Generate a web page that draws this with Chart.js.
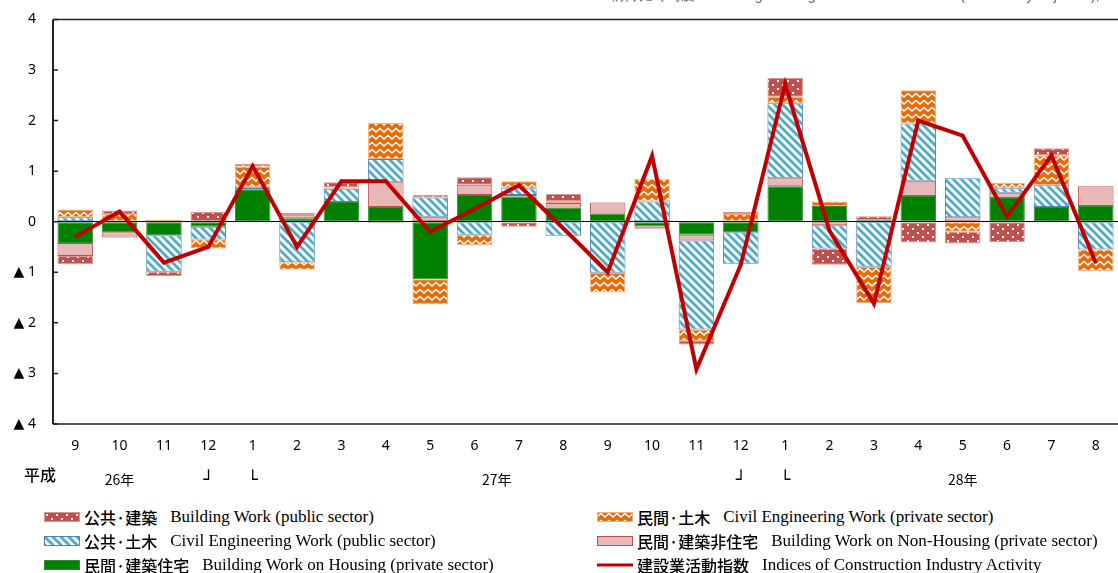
<!DOCTYPE html>
<html><head><meta charset="utf-8">
<script src="https://cdn.jsdelivr.net/npm/chart.js@4.4.0/dist/chart.umd.min.js"></script>
<style>
html,body{margin:0;padding:0;background:#fff;width:1118px;height:573px;overflow:hidden;position:relative}
#wrap{position:absolute;left:0;top:-6px;width:1118px;height:501px}
#hdr{position:absolute;right:6px;top:-12px;font:14px 'Liberation Sans';line-height:14px;color:#666;white-space:nowrap;z-index:2}
.leg{position:absolute;display:flex;align-items:center;height:22px;white-space:nowrap}
.leg canvas{margin-right:4px}
.jp{font:500 16px 'Noto Sans CJK JP';color:#000;margin-right:13px}
.en{font:17px 'Liberation Serif';color:#000}
</style></head>
<body>
<div id="wrap"><canvas id="c" width="1118" height="501"></canvas></div>
<div id="hdr">前月比寄与度 Percentage Change from Previous Month (Seasonally Adjusted),%</div>
<div id="legend"></div>
<script>
// ---- data ----
const months = ['9','10','11','12','1','2','3','4','5','6','7','8','9','10','11','12','1','2','3','4','5','6','7','8'];
const yearLabels = [{at:1,text:'26年'},{at:3,text:'┘'},{at:4,text:'└'},{at:9.5,text:'27年'},{at:15,text:'┘'},{at:16,text:'└'},{at:20,text:'28年'}];
const eraLabel = '平成';
const housingPrivate = [-0.42,-0.21,-0.27,-0.10, 0.64,0.07,0.39,0.29,-1.14,0.53,0.50,0.28,0.16,-0.09,-0.26,-0.21, 0.70,0.31,0.03,0.51,0,0.47,0.29,0.31];
const nonHousingPrivate = [-0.26,-0.10,0,0, 0,0.06,0,0.49,0.10,0.20,0.03,0.09,0.22,0,-0.11,0, 0.16,-0.07,0,0.30,0.09,0.10,0,0.39];
const civilPublic = [0.09,0,-0.72,-0.25, 0.04,-0.80,0.26,0.46,0.38,-0.26,0.13,-0.28,-1.01,0.40,-1.76,-0.62, 1.48,-0.46,-0.89,1.13,0.77,0.09,0.43,-0.55];
const civilPrivate = [0.15,0.15,0.04,-0.18, 0.41,-0.15,0.03,0.71,-0.49,-0.20,0.14,0.04,-0.39,0.45,-0.23,0.15, 0.13,0.09,-0.72,0.66,-0.20,0.11,0.59,-0.43];
const buildingPublic = [-0.16,0.07,-0.09,0.19, 0.05,0.04,0.10,-0.03,0.05,0.15,-0.10,0.14,0,-0.05,-0.07,0.04, 0.37,-0.32,0.08,-0.41,-0.23,-0.40,0.14,0];
const activityIndex = [-0.30,0.20,-0.81,-0.50, 1.10,-0.50,0.80,0.80,-0.20,0.25,0.72,-0.13,-1.00,1.30,-2.92,-0.85, 2.72,-0.18,-1.62,2.00,1.70,0.10,1.31,-0.82];
const yTicks = [-4,-3,-2,-1,0,1,2,3,4];

const names = {
  bp:['公共·建築','Building Work (public sector)'],
  cp:['公共·土木','Civil Engineering Work (public sector)'],
  hp:['民間·建築住宅','Building Work on Housing (private sector)'],
  cv:['民間·土木','Civil Engineering Work (private sector)'],
  nh:['民間·建築非住宅','Building Work on Non-Housing (private sector)'],
  ln:['建設業活動指数','Indices of Construction Industry Activity']
};

// ---- patterns ----
function tile(w,h,draw){const c=document.createElement('canvas');c.width=w;c.height=h;draw(c.getContext('2d'),w,h);return c;}
const tRed = tile(10,8,(g,w,h)=>{g.fillStyle='#C0504D';g.fillRect(0,0,w,h);g.fillStyle='#fff';g.fillRect(2,2,2,2);g.fillRect(7,6,2,2);});
const tBlue = tile(8,8,(g,w,h)=>{g.fillStyle='#fff';g.fillRect(0,0,w,h);g.strokeStyle='#4BACC6';g.lineWidth=2.8;g.beginPath();for(let k=-1;k<=1;k++){g.moveTo(k*8-1,-1);g.lineTo(k*8+9,9);}g.stroke();});
const tOrange = tile(8,7,(g,w,h)=>{g.fillStyle='#E46C0A';g.fillRect(0,0,w,h);g.strokeStyle='#fff';g.lineWidth=1.6;g.beginPath();g.moveTo(-4,1.5);g.lineTo(0,5);g.lineTo(4,1.5);g.lineTo(8,5);g.lineTo(12,1.5);g.stroke();});
const ctx0 = document.getElementById('c').getContext('2d');
const pRed = ctx0.createPattern(tRed,'repeat');
const pBlue = ctx0.createPattern(tBlue,'repeat');
const pOrange = ctx0.createPattern(tOrange,'repeat');

const styles = {
  hp:{bg:'#008000',bd:'#2f8f2f'},
  nh:{bg:'#E6B9B8',bd:'#C0504D'},
  cp:{bg:pBlue,bd:'#4F81BD'},
  cv:{bg:pOrange,bd:'#F6B183'},
  bp:{bg:pRed,bd:'#D99694'}
};

function barDs(key,data){return {type:'bar',label:names[key].join(' '),data:data,backgroundColor:styles[key].bg,borderColor:styles[key].bd,borderWidth:1,borderSkipped:false,stack:'s',order:2,barPercentage:0.8,categoryPercentage:1};}

const framePlugin = {
  id:'frame',
  afterDatasetsDraw(chart){
    const {ctx,chartArea:a,scales:{x,y}}=chart;
    ctx.save();
    ctx.strokeStyle='#222';
    ctx.lineWidth=1.5;
    ctx.beginPath();ctx.moveTo(a.left,a.top);ctx.lineTo(a.right,a.top);ctx.moveTo(a.left,a.bottom);ctx.lineTo(a.right,a.bottom);ctx.stroke();
    ctx.lineWidth=2;ctx.beginPath();ctx.moveTo(a.left,a.top);ctx.lineTo(a.left,a.bottom);ctx.stroke();
    ctx.lineWidth=1.5;ctx.beginPath();
    yTicks.forEach(v=>{const py=y.getPixelForValue(v);ctx.moveTo(a.left,py);ctx.lineTo(a.left+5,py);});
    ctx.stroke();
    // second label row
    const b=a.bottom;
    ctx.fillStyle='#000';ctx.textAlign='center';ctx.textBaseline='middle';
    ctx.font="500 16px 'Noto Sans CJK JP'";
    ctx.fillText(eraLabel,40,b+51);
    yearLabels.forEach(l=>{
      const i0=Math.floor(l.at),f=l.at-i0;
      const px = f? x.getPixelForValue(i0)*(1-f)+x.getPixelForValue(i0+1)*f : x.getPixelForValue(i0);
      if(l.text.length===1){ctx.font="bold 17px 'DejaVu Sans'";ctx.fillText(l.text,px,b+57);}
      else{ctx.font="14px 'Noto Sans CJK JP'";ctx.fillText(l.text,px,b+56);}
    });
    ctx.restore();
  }
};

new Chart(document.getElementById('c'),{
  data:{labels:months,datasets:[
    barDs('hp',housingPrivate),
    barDs('nh',nonHousingPrivate),
    barDs('cp',civilPublic),
    barDs('cv',civilPrivate),
    barDs('bp',buildingPublic),
    {type:'line',label:names.ln.join(' '),data:activityIndex,borderColor:'#C00000',backgroundColor:'#C00000',borderWidth:4,pointRadius:0,tension:0,borderJoinStyle:'miter',stack:'line',order:0}
  ]},
  options:{
    responsive:false,animation:false,
    layout:{padding:{top:12,right:0,left:0,bottom:0}},
    plugins:{legend:{display:false},tooltip:{enabled:false}},
    scales:{
      x:{stacked:true,grid:{display:false,drawTicks:false},border:{display:false},
         ticks:{autoSkip:false,maxRotation:0,padding:14,color:'#000',font:{family:"'Noto Sans','Noto Sans CJK JP'",size:14}},
         afterFit(s){s.height=71;}},
      y:{stacked:true,min:-4,max:4,afterBuildTicks(s){s.ticks=yTicks.map(v=>({value:v}));},
         grid:{drawTicks:false,color:(c)=>c.tick&&c.tick.value===0?'#000':'rgba(0,0,0,0)',lineWidth:1},
         border:{display:false},
         ticks:{padding:17,color:'#000',font:{family:"'Noto Sans','DejaVu Sans'",size:14},callback:(v)=>v<0?'▲ '+Math.abs(v):String(v)},
         afterFit(s){s.width=53;}}
    }
  },
  plugins:[framePlugin]
});

// ---- legend ----
const legendItems=[
  {key:'bp',col:0,row:0},{key:'cp',col:0,row:1},{key:'hp',col:0,row:2},
  {key:'cv',col:1,row:0},{key:'nh',col:1,row:1},{key:'ln',col:1,row:2}
];
const colX=[44,597], rowY=[517,541,565];
const lg=document.getElementById('legend');
legendItems.forEach(it=>{
  const d=document.createElement('div');d.className='leg';
  d.style.left=colX[it.col]+'px';d.style.top=(rowY[it.row]-11)+'px';
  const c=document.createElement('canvas');c.width=36;c.height=10;
  const g=c.getContext('2d');
  if(it.key==='ln'){g.fillStyle='#C00000';g.fillRect(0,3.5,36,3);}
  else{const st=styles[it.key];let bg=st.bg;
    if(it.key==='bp')bg=g.createPattern(tRed,'repeat');
    if(it.key==='cp')bg=g.createPattern(tBlue,'repeat');
    if(it.key==='cv')bg=g.createPattern(tOrange,'repeat');
    g.fillStyle=bg;g.fillRect(1,1,34,8);g.strokeStyle=st.bd;g.lineWidth=1;g.strokeRect(0.5,0.5,35,9);}
  d.appendChild(c);
  const j=document.createElement('span');j.className='jp';j.textContent=names[it.key][0];
  const e=document.createElement('span');e.className='en';e.textContent=names[it.key][1];
  d.appendChild(j);d.appendChild(e);lg.appendChild(d);
});
</script>
</body></html>
